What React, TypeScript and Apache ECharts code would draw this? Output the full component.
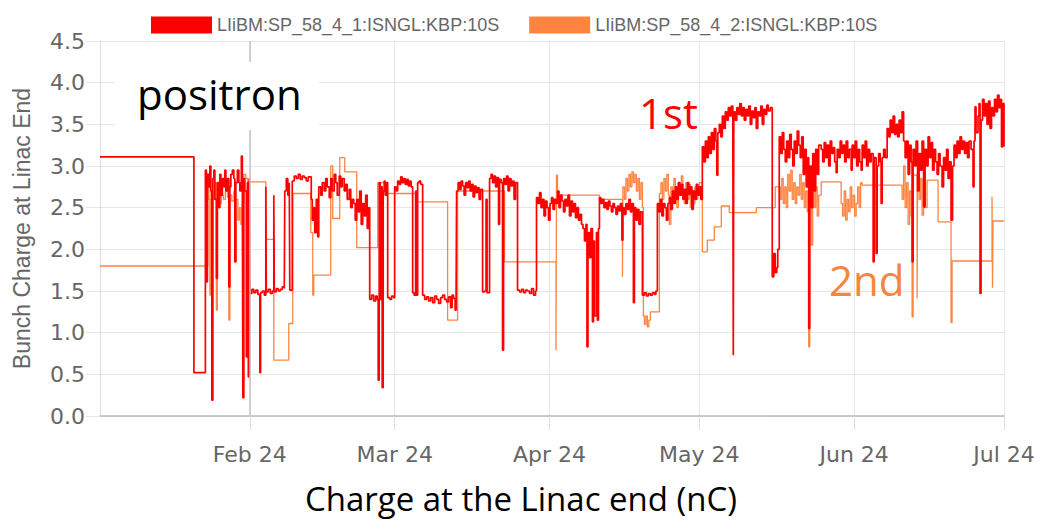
import React, { useEffect, useRef } from "react";
import * as echarts from "echarts";

// x values: days since 2024-01-01 00:00 UTC; y values: bunch charge (nC)
const DAY_MS = 86400000;
const YEAR_START = Date.UTC(2024, 0, 1);
const X_MIN_DAY = 1;
const X_MAX_DAY = 182;
const MARK_DAY = 31;

const MONTH_NAMES = ["Jan", "Feb", "Mar", "Apr", "May", "Jun", "Jul", "Aug", "Sep", "Oct", "Nov", "Dec"];
const YEAR_SUFFIX = "24";

const SERIES_NAMES = ["LIiBM:SP_58_4_1:ISNGL:KBP:10S", "LIiBM:SP_58_4_2:ISNGL:KBP:10S"];
const SERIES_COLORS = ["#ff0000", "#ff8441"];

const Y_MIN = 0;
const Y_MAX = 4.5;
const Y_STEP = 0.5;

const Y_TITLE = "Bunch Charge at Linac End";
const X_TITLE = "Charge at the Linac end (nC)";
const NOTE_POSITRON = "positron";
const NOTE_FIRST = "1st";
const NOTE_SECOND = "2nd";

const firstBunch: [number, number][] = [
  [1, 3.11], [19.8, 0.52], [22.1, 2.95], [22.3, 1.61], [22.5, 2.9], [22.8, 2.75], [23.0, 3.0], [23.2, 2.7], [23.4, 0.19], [23.6, 2.85],
  [23.8, 2.95], [24.0, 2.6], [24.3, 1.65], [24.5, 2.8], [24.8, 2.5], [25.0, 2.9], [25.2, 2.65], [25.5, 2.85], [25.8, 2.75], [26.0, 2.95],
  [26.2, 2.7], [26.5, 2.85], [26.8, 1.55], [27.0, 2.75], [27.2, 2.9], [27.5, 2.95], [27.8, 2.85], [28.0, 1.85], [28.2, 2.8], [28.5, 2.95],
  [28.8, 2.8], [29.0, 2.7], [29.3, 3.12], [29.5, 2.9], [29.6, 0.22], [29.8, 2.85], [30.0, 2.7], [30.3, 0.71], [30.5, 2.8], [30.7, 0.47],
  [30.9, 2.85], [31.0, 1.47], [31.4, 1.52], [31.8, 1.48], [32.2, 1.51], [32.6, 1.46], [33.0, 0.52], [33.15, 1.48], [33.5, 1.5], [33.9, 1.45],
  [34.2, 2.75], [34.3, 1.49], [34.7, 1.52], [35.1, 1.47], [35.5, 1.5], [35.8, 2.65], [35.9, 1.49], [36.3, 1.53], [36.7, 1.5], [37.1, 1.52],
  [37.5, 1.55], [37.9, 1.53], [38.0, 2.7], [38.3, 2.85], [38.6, 2.65], [38.9, 2.8], [39.0, 1.51], [39.5, 2.82], [39.9, 2.88], [40.3, 2.85],
  [40.7, 2.9], [41.1, 2.84], [41.5, 2.88], [41.9, 2.86], [42.3, 2.82], [42.7, 2.87], [43.3, 2.6], [43.5, 2.35], [43.8, 2.5], [44.0, 2.2],
  [44.3, 2.6], [44.6, 2.15], [44.8, 2.75], [45.2, 2.65], [45.5, 2.8], [45.9, 2.7], [46.2, 2.85], [46.5, 2.75], [46.9, 2.62], [47.2, 2.85],
  [47.5, 2.7], [47.9, 2.9], [48.2, 2.8], [48.5, 2.65], [48.9, 2.88], [49.2, 2.75], [49.5, 2.85], [49.9, 2.7], [50.2, 2.78], [50.5, 2.6],
  [50.9, 2.72], [51.2, 2.5], [51.5, 2.6], [51.8, 2.55], [52.1, 2.35], [52.4, 2.6], [52.7, 2.45], [53.0, 2.7], [53.3, 2.3], [53.6, 2.55],
  [53.9, 2.4], [54.2, 2.65], [54.5, 2.25], [54.8, 2.5], [55.0, 1.4], [55.4, 1.45], [55.8, 1.38], [56.2, 1.44], [56.5, 1.4], [56.7, 0.43],
  [56.9, 2.8], [57.1, 1.4], [57.3, 2.75], [57.5, 0.34], [57.7, 2.7], [57.9, 2.82], [58.1, 2.65], [58.4, 2.8], [58.6, 1.42], [59.0, 1.4],
  [59.4, 1.44], [59.8, 1.42], [60.0, 2.75], [60.3, 2.7], [60.6, 2.82], [60.9, 2.78], [61.2, 2.87], [61.5, 2.8], [61.8, 2.85], [62.1, 2.78],
  [62.4, 2.84], [62.7, 2.76], [63.0, 2.82], [63.3, 2.75], [63.6, 1.48], [63.9, 1.45], [64.2, 2.7], [64.4, 1.45], [64.6, 2.8], [64.9, 2.82],
  [65.2, 2.78], [65.6, 1.45], [66.0, 1.4], [66.4, 1.43], [66.8, 1.38], [67.2, 1.42], [67.6, 1.36], [68.0, 1.44], [68.4, 1.4], [68.8, 1.35],
  [69.2, 1.42], [69.6, 1.45], [70.0, 1.4], [70.4, 1.37], [70.8, 1.43], [71.2, 1.3], [71.5, 1.45], [71.8, 1.41], [72.1, 1.27], [72.3, 1.47],
  [72.4, 2.7], [72.7, 2.8], [73.0, 2.72], [73.3, 2.82], [73.6, 2.76], [73.9, 2.65], [74.2, 2.8], [74.5, 2.74], [74.8, 2.82], [75.1, 2.7],
  [75.4, 2.78], [75.7, 2.63], [76.0, 2.76], [76.3, 2.68], [76.6, 2.74], [76.9, 2.6], [77.2, 2.72], [77.6, 1.49], [78.0, 1.5], [78.3, 2.6],
  [78.5, 1.48], [79.0, 2.85], [79.3, 2.9], [79.6, 2.8], [79.9, 2.88], [80.2, 2.75], [80.5, 2.86], [80.8, 2.3], [81.0, 2.84], [81.3, 2.8],
  [81.6, 0.79], [81.8, 2.85], [82.1, 2.78], [82.4, 2.88], [82.7, 2.7], [83.0, 2.85], [83.3, 2.76], [83.6, 2.82], [83.9, 2.6], [84.2, 2.8],
  [84.6, 1.51], [85.0, 1.49], [85.4, 1.52], [85.8, 1.48], [86.2, 1.51], [86.6, 1.5], [87.0, 1.47], [87.4, 1.53], [87.8, 1.45], [88.2, 1.5],
  [88.4, 2.62], [88.7, 2.55], [89.0, 2.68], [89.3, 2.5], [89.6, 2.6], [89.9, 2.4], [90.2, 2.58], [90.5, 2.5], [90.8, 2.35], [91.1, 2.55],
  [91.4, 2.62], [91.7, 2.48], [92.0, 2.6], [92.3, 2.55], [92.6, 2.7], [92.9, 2.5], [93.2, 2.65], [93.5, 2.58], [93.8, 2.45], [94.1, 2.6],
  [94.4, 2.52], [94.7, 2.65], [95.0, 2.4], [95.3, 2.58], [95.6, 2.45], [95.9, 2.55], [96.2, 2.38], [96.5, 2.5], [96.8, 2.35], [97.1, 2.42],
  [97.4, 2.3], [97.7, 2.25], [98.0, 2.1], [98.3, 2.3], [98.5, 0.83], [98.7, 2.2], [99.0, 1.9], [99.3, 2.25], [99.6, 1.13], [99.8, 2.1],
  [100.0, 1.2], [100.4, 2.2], [100.6, 1.15], [100.8, 2.25], [101.0, 2.62], [101.3, 2.55], [101.6, 2.6], [101.9, 2.5], [102.2, 2.56], [102.5, 2.48],
  [102.8, 2.58], [103.1, 2.52], [103.4, 2.45], [103.7, 2.55], [104.0, 2.5], [104.3, 2.42], [104.6, 2.52], [104.9, 2.46], [105.2, 2.55], [105.5, 2.11],
  [105.7, 2.5], [106.0, 2.42], [106.3, 2.55], [106.6, 2.48], [106.9, 2.6], [107.2, 2.45], [107.5, 2.55], [107.8, 1.36], [108.0, 2.5], [108.3, 2.35],
  [108.6, 2.48], [108.9, 2.3], [109.2, 2.45], [109.6, 1.45], [110.0, 1.48], [110.4, 1.44], [110.8, 1.47], [111.2, 1.45], [111.6, 1.48], [112.0, 1.46],
  [112.3, 1.5], [112.6, 2.55], [112.9, 2.45], [113.2, 2.6], [113.5, 2.4], [113.8, 2.55], [114.1, 2.5], [114.4, 2.35], [114.7, 2.55], [115.0, 2.62],
  [115.3, 2.48], [115.6, 2.7], [115.9, 2.55], [116.2, 2.75], [116.5, 2.6], [116.8, 2.8], [117.1, 2.65], [117.4, 2.78], [117.7, 2.6], [118.0, 2.72],
  [118.3, 2.55], [118.6, 2.8], [118.9, 2.66], [119.2, 2.75], [119.5, 2.48], [119.8, 2.7], [120.1, 2.6], [120.4, 2.78], [120.7, 2.65], [121.0, 2.75],
  [121.3, 2.6], [121.6, 3.23], [121.9, 3.05], [122.2, 3.3], [122.5, 3.1], [122.8, 3.35], [123.1, 3.15], [123.4, 3.4], [123.7, 3.2], [124.0, 3.45],
  [124.3, 3.3], [124.5, 2.89], [124.7, 3.4], [125.0, 3.5], [125.3, 3.35], [125.6, 3.6], [125.9, 3.45], [126.2, 3.65], [126.5, 3.55], [126.8, 3.7],
  [127.1, 3.6], [127.4, 3.72], [127.7, 3.58], [127.8, 0.73], [127.9, 3.65], [128.2, 3.55], [128.5, 3.7], [128.8, 3.62], [129.1, 3.75], [129.4, 3.6],
  [129.7, 3.7], [130.0, 3.55], [130.3, 3.68], [130.6, 3.6], [130.9, 3.72], [131.2, 3.5], [131.5, 3.66], [131.8, 3.58], [132.1, 3.7], [132.4, 3.45],
  [132.7, 3.65], [133.0, 3.6], [133.3, 3.72], [133.6, 3.5], [133.9, 3.68], [134.2, 3.62], [134.5, 3.73], [134.8, 3.66], [135.2, 3.7], [135.6, 1.67],
  [135.9, 1.95], [136.2, 1.72], [136.5, 1.78], [136.7, 2.0], [137.0, 3.35], [137.3, 3.15], [137.6, 3.4], [137.9, 3.2], [138.2, 3.05], [138.5, 3.3],
  [138.8, 3.1], [139.1, 3.38], [139.4, 3.2], [139.7, 3.0], [140.0, 3.3], [140.3, 3.15], [140.6, 3.42], [140.9, 3.25], [141.2, 3.1], [141.5, 3.35],
  [141.8, 2.9], [142.1, 3.2], [142.4, 2.75], [142.7, 3.1], [142.9, 1.05], [143.1, 3.0], [143.4, 2.5], [143.7, 3.15], [144.0, 2.7], [144.3, 3.2],
  [144.6, 2.9], [144.9, 3.25], [145.4, 3.2], [145.7, 3.05], [146.0, 3.28], [146.3, 3.1], [146.6, 3.25], [146.9, 3.0], [147.2, 3.3], [147.5, 3.15],
  [147.8, 3.22], [148.1, 3.05], [148.4, 2.92], [148.6, 3.2], [148.9, 3.1], [149.2, 3.3], [149.5, 3.15], [149.8, 3.25], [150.1, 3.05], [150.4, 3.3],
  [150.7, 3.1], [151.0, 3.2], [151.4, 2.95], [151.6, 3.25], [151.9, 3.1], [152.2, 3.3], [152.5, 3.0], [152.8, 3.2], [153.1, 3.05], [153.4, 2.95],
  [153.6, 3.25], [153.9, 3.1], [154.2, 3.3], [154.5, 3.0], [154.8, 3.2], [155.1, 3.05], [155.4, 3.15], [155.8, 1.85], [156.0, 3.1], [156.4, 1.95],
  [156.6, 3.0], [156.9, 3.15], [157.2, 3.05], [157.4, 2.55], [157.6, 3.1], [157.9, 3.2], [158.2, 3.1], [158.6, 3.45], [158.9, 3.35], [159.2, 3.55],
  [159.5, 3.4], [159.8, 3.6], [160.1, 3.38], [160.4, 3.5], [160.7, 3.35], [161.0, 3.55], [161.3, 3.4], [161.6, 3.65], [161.9, 3.3], [162.2, 3.1],
  [162.5, 3.3], [162.8, 2.9], [163.1, 3.25], [163.4, 3.05], [163.6, 1.85], [163.8, 3.2], [164.1, 3.0], [164.4, 3.3], [164.7, 2.7], [165.0, 3.15],
  [165.3, 2.95], [165.6, 3.3], [165.9, 2.51], [166.2, 3.2], [166.5, 3.0], [166.8, 3.35], [167.1, 3.1], [167.4, 3.28], [167.7, 2.95], [168.0, 3.2],
  [168.3, 3.05], [168.6, 2.9], [168.9, 3.15], [169.2, 3.0], [169.6, 2.75], [169.9, 3.1], [170.2, 2.95], [170.5, 3.2], [170.8, 2.85], [171.1, 3.05],
  [171.4, 2.35], [171.7, 3.0], [172.0, 3.25], [172.3, 3.1], [172.6, 3.3], [172.9, 3.15], [173.2, 3.35], [173.5, 3.2], [173.8, 3.3], [174.1, 3.15],
  [174.4, 3.28], [174.7, 3.1], [175.0, 3.3], [175.4, 3.2], [175.8, 2.75], [176.0, 3.3], [176.2, 3.71], [176.4, 3.4], [176.8, 3.6], [177.0, 3.75],
  [177.2, 1.47], [177.4, 3.55], [177.7, 3.8], [178.0, 3.6], [178.3, 3.75], [178.6, 3.5], [178.9, 3.78], [179.2, 3.45], [179.5, 3.7], [179.8, 3.6],
  [180.1, 3.8], [180.4, 3.65], [180.7, 3.85], [181.0, 3.7], [181.3, 3.8], [181.5, 3.23], [181.7, 3.75], [182.0, 3.23],
];

const secondBunch: [number, number][] = [
  [1, 1.8], [22.6, 2.75], [22.8, 2.6], [23.0, 1.45], [23.2, 2.7], [23.6, 2.6], [24.0, 2.8], [24.3, 1.27], [24.5, 2.65], [24.9, 2.55],
  [25.3, 2.65], [25.7, 2.6], [26.1, 2.7], [26.5, 2.62], [26.8, 1.15], [27.0, 2.65], [27.4, 2.58], [27.8, 2.7], [28.0, 1.85], [28.2, 2.6],
  [28.6, 2.35], [28.9, 2.5], [29.2, 2.3], [29.5, 2.55], [29.8, 2.9], [30.2, 2.85], [30.6, 2.81], [34.2, 2.12], [35.8, 0.67], [38.8, 1.11],
  [39.6, 2.67], [43.2, 2.2], [43.6, 1.45], [43.8, 1.69], [47.2, 3.0], [47.6, 2.37], [49.0, 3.1], [50.0, 2.93], [52.4, 2.02], [56.6, 2.8],
  [58.4, 2.67], [64.4, 2.57], [70.6, 1.15], [72.6, 2.7], [82.0, 1.85], [92.3, 0.79], [92.4, 2.89], [92.6, 2.65], [101.0, 2.6], [105.6, 1.67],
  [105.7, 2.75], [106.0, 2.6], [106.3, 2.85], [106.6, 2.7], [106.9, 2.9], [107.2, 2.75], [107.5, 2.93], [107.8, 2.8], [108.1, 2.9], [108.4, 2.7],
  [108.7, 2.85], [109.0, 2.6], [109.3, 2.8], [109.6, 2.5], [109.8, 1.2], [110.0, 1.1], [110.3, 1.2], [110.6, 1.07], [110.9, 1.15], [111.2, 1.25],
  [113.0, 2.67], [113.3, 2.8], [113.6, 2.6], [113.9, 2.85], [114.2, 2.7], [114.5, 2.9], [114.8, 2.65], [115.0, 2.3], [115.3, 2.75], [115.6, 2.6],
  [115.9, 2.85], [116.2, 2.7], [116.5, 2.5], [116.8, 2.8], [117.1, 2.65], [117.4, 2.88], [117.7, 2.7], [118.0, 2.55], [118.3, 2.8], [118.6, 2.6],
  [118.9, 2.78], [119.2, 2.5], [119.5, 2.7], [119.8, 2.55], [120.1, 2.75], [120.4, 2.6], [120.7, 2.72], [121.0, 2.8], [121.6, 1.97], [122.6, 2.11],
  [124.0, 2.27], [125.4, 2.52], [127.0, 2.44], [132.4, 2.5], [136.2, 2.75], [137.2, 2.6], [137.5, 2.85], [137.8, 2.55], [138.1, 2.75], [138.4, 2.5],
  [138.7, 2.9], [139.0, 2.7], [139.3, 2.95], [139.6, 2.6], [139.9, 2.8], [140.2, 2.55], [140.5, 2.75], [140.8, 2.65], [141.1, 2.9], [141.4, 2.6],
  [141.7, 2.8], [142.0, 2.5], [142.3, 2.7], [142.6, 2.45], [142.9, 0.83], [143.1, 2.6], [143.4, 2.05], [143.7, 2.7], [144.0, 2.5], [144.3, 2.75],
  [144.6, 2.4], [144.9, 2.65], [145.4, 2.81], [149.4, 2.55], [149.7, 2.4], [150.0, 2.7], [150.3, 2.35], [150.6, 2.6], [150.9, 2.45], [151.2, 2.75],
  [151.5, 2.5], [151.8, 2.65], [152.1, 2.4], [152.4, 2.55], [152.7, 2.75], [153.0, 2.5], [153.3, 2.8], [153.6, 2.77], [161.6, 2.6], [161.9, 3.0],
  [162.2, 2.5], [162.5, 2.8], [162.8, 2.3], [163.1, 2.7], [163.4, 2.4], [163.6, 1.19], [163.8, 2.9], [164.0, 2.89], [164.6, 1.41], [164.7, 2.89],
  [165.0, 2.6], [165.3, 2.85], [165.6, 2.41], [165.9, 2.75], [166.2, 2.5], [166.6, 2.83], [168.8, 2.33], [171.4, 1.12], [171.6, 1.86], [179.6, 2.63],
  [179.7, 1.54], [179.8, 2.34], [182.0, 2.34],
];

const toTime = (day: number) => YEAR_START + day * DAY_MS;
const toSeries = (pts: [number, number][]) => pts.map(([d, v]) => [toTime(d), v]);

export default function App() {
  const ref = useRef<HTMLDivElement>(null);

  useEffect(() => {
    if (!ref.current) return;
    const chart = echarts.init(ref.current, undefined, { renderer: "svg" });
    const axisFont = "DejaVu Sans";
    chart.setOption({
      animation: false,
      useUTC: true,
      backgroundColor: "#ffffff",
      legend: {
        data: SERIES_NAMES,
        left: 146,
        top: 11,
        itemWidth: 61,
        itemHeight: 17,
        itemGap: 30,
        icon: "rect",
        textStyle: { fontFamily: "Liberation Sans", fontSize: 18, color: "#666666" },
      },
      grid: { left: 100, right: 40, top: 41, bottom: 108, containLabel: false },
      xAxis: {
        type: "time",
        min: toTime(X_MIN_DAY),
        max: toTime(X_MAX_DAY),
        splitNumber: 6,
        axisLine: { show: true, lineStyle: { color: "#bbbbbb", width: 1.5 } },
        axisTick: { show: true, length: 14, lineStyle: { color: "#dddddd" } },
        axisLabel: {
          formatter: (v: number) => MONTH_NAMES[new Date(v).getUTCMonth()] + " " + YEAR_SUFFIX,
          fontFamily: axisFont,
          fontSize: 22,
          color: "#666666",
          margin: 27,
          showMaxLabel: true,
          showMinLabel: false,
        },
        splitLine: { show: true, lineStyle: { color: "#e6e6e6" } },
        name: X_TITLE,
        nameLocation: "middle",
        nameGap: 66,
        nameTextStyle: { fontFamily: "Open Sans", fontSize: 33, color: "#000000", padding: [0, 62, 0, 0] },
      },
      yAxis: {
        type: "value",
        min: Y_MIN,
        max: Y_MAX,
        interval: Y_STEP,
        axisLine: { show: true, lineStyle: { color: "#dddddd" } },
        axisTick: { show: true, length: 14, lineStyle: { color: "#e6e6e6" } },
        axisLabel: {
          formatter: (v: number) => v.toFixed(1),
          fontFamily: axisFont,
          fontSize: 22,
          color: "#666666",
          margin: 15,
        },
        splitLine: { show: true, lineStyle: { color: "#e6e6e6" } },
        name: Y_TITLE,
        nameLocation: "middle",
        nameGap: 67,
        nameTextStyle: { fontFamily: "Liberation Sans", fontSize: 23, color: "#666666" },
      },
      series: [
        {
          name: SERIES_NAMES[0],
          type: "line",
          step: "end",
          showSymbol: false,
          symbol: "none",
          z: 3,
          color: SERIES_COLORS[0],
          lineStyle: { color: SERIES_COLORS[0], width: 1.7 },
          data: toSeries(firstBunch),
        },
        {
          name: SERIES_NAMES[1],
          type: "line",
          step: "end",
          showSymbol: false,
          symbol: "none",
          z: 2,
          color: SERIES_COLORS[1],
          lineStyle: { color: SERIES_COLORS[1], width: 1.3 },
          data: toSeries(secondBunch),
          markLine: {
            silent: true,
            symbol: "none",
            label: { show: false },
            lineStyle: { color: "#c4c4c4", width: 1.5, type: "solid" },
            data: [{ xAxis: toTime(MARK_DAY) }],
          },
        },
      ],
      graphic: [
        { type: "rect", z: 100, shape: { x: 115, y: 62, width: 204, height: 68 }, style: { fill: "#ffffff" } },
        {
          type: "text", z: 101, x: 137, y: 93,
          style: { text: NOTE_POSITRON, fontFamily: "Open Sans", fontSize: 42, fill: "#000000", verticalAlign: "middle" },
        },
        {
          type: "text", z: 101, x: 639, y: 112,
          style: { text: NOTE_FIRST, fontFamily: "Open Sans", fontSize: 42, fill: "#ff0000", verticalAlign: "middle" },
        },
        {
          type: "text", z: 101, x: 829, y: 279,
          style: { text: NOTE_SECOND, fontFamily: "Open Sans", fontSize: 42, fill: "#f7843f", verticalAlign: "middle" },
        },
      ],
    });
    return () => chart.dispose();
  }, []);

  return (
    <div
      ref={ref}
      style={{ position: "absolute", left: 0, top: 0, width: 1044, height: 524, background: "#ffffff" }}
    />
  );
}
